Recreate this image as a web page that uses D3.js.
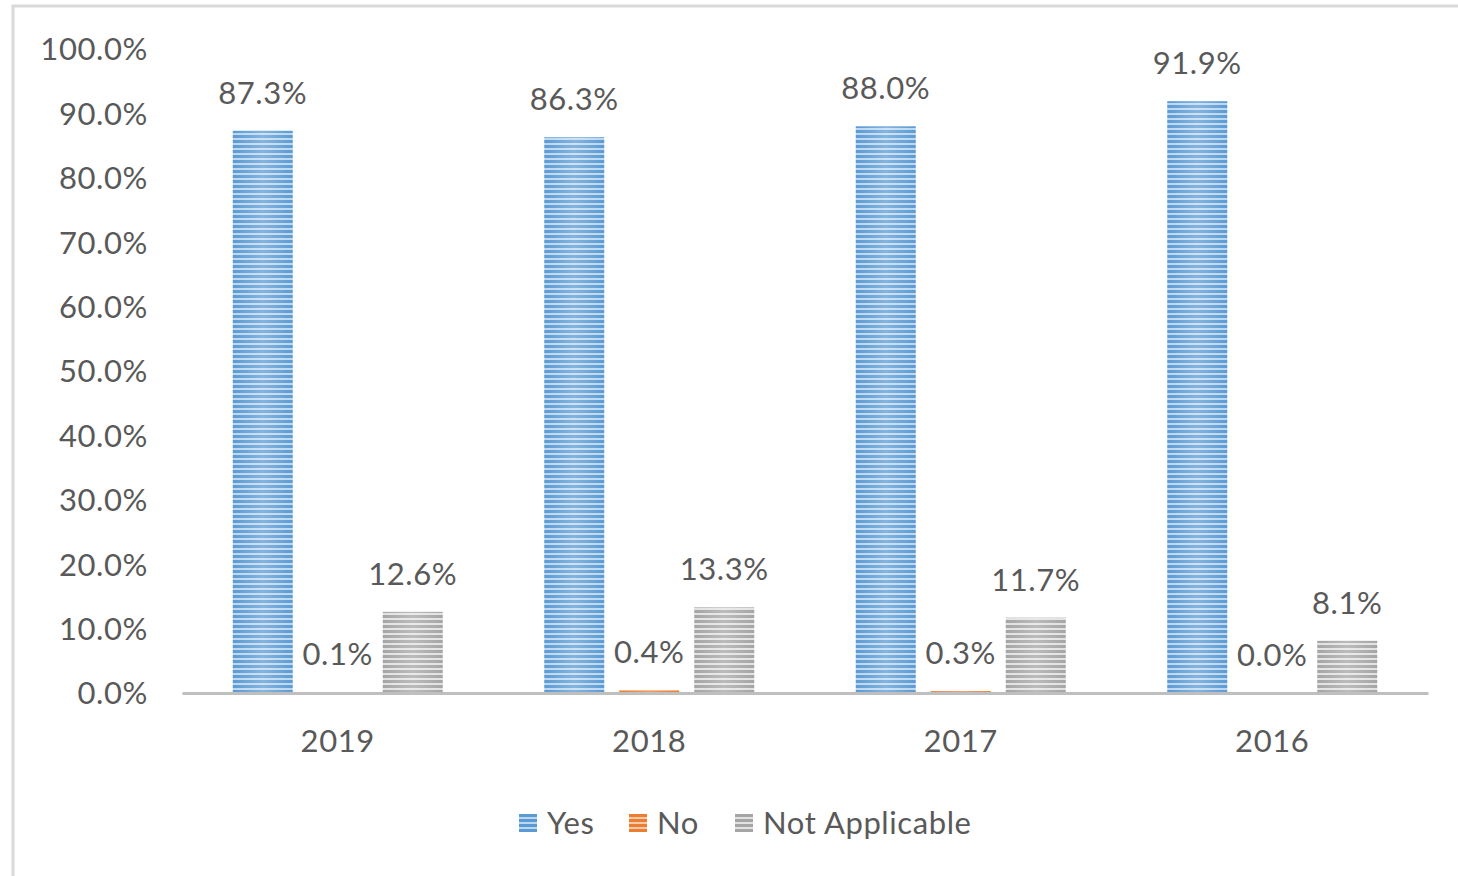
<!DOCTYPE html>
<html><head><meta charset="utf-8">
<script src="https://cdn.jsdelivr.net/npm/d3@7"></script>
<style>html,body{margin:0;padding:0;background:#fff}svg{display:block}</style>
</head><body>
<svg id="c" width="1458" height="876"></svg>
<script>
const categories = ["2019","2018","2017","2016"];
const seriesNames = ["Yes","No","Not Applicable"];
const yesValues = [87.3, 86.3, 88.0, 91.9];
const noValues = [0.1, 0.4, 0.3, 0.0];
const naValues = [12.6, 13.3, 11.7, 8.1];
const yTicks = [0,10,20,30,40,50,60,70,80,90,100];

const seriesValues = [yesValues, noValues, naValues];
const colors = ["#5b9bd5", "#ed7d31", "#a5a5a5"];
const lights = ["#bdd7ee", "#f8cbad", "#e2e2e2"];
const font = "Lato, 'Open Sans', sans-serif";
const fs = 31;
const ls = "0.6px";
const textColor = "#595959";

const svg = d3.select("#c");
const defs = svg.append("defs");
seriesNames.forEach((s,i)=>{
  const p = defs.append("pattern").attr("id","pat"+i).attr("patternUnits","userSpaceOnUse")
    .attr("width",8).attr("height",5);
  p.append("rect").attr("width",8).attr("height",5).attr("fill",colors[i]);
  p.append("rect").attr("y",3).attr("width",8).attr("height",2).attr("fill",lights[i]);
  const g = defs.append("linearGradient").attr("id","grad"+i).attr("x1","0").attr("x2","1").attr("y1","0").attr("y2","0");
  g.append("stop").attr("offset","0").attr("stop-color","#fff").attr("stop-opacity",0);
  g.append("stop").attr("offset","0.5").attr("stop-color","#fff").attr("stop-opacity",0.25);
  g.append("stop").attr("offset","1").attr("stop-color","#fff").attr("stop-opacity",0);
});

// frame border
svg.append("path").attr("d","M13,876 L13,6 L1458,6").attr("fill","none").attr("stroke","#d9d9d9").attr("stroke-width",3);

const x0 = d3.scaleBand().domain(categories).range([182,1428]).paddingInner(0).paddingOuter(0);
const x1 = d3.scaleBand().domain(seriesNames).range([50.75, x0.bandwidth()-50.75]).paddingInner(0.2).paddingOuter(0);
const y = d3.scaleLinear().domain([0,100]).range([693,49]);

function styleText(sel){
  sel.attr("font-family",font).attr("font-size",fs).attr("fill",textColor).style("letter-spacing",ls);
}

// y labels
const yAxis = d3.axisLeft(y).tickValues(yTicks).tickFormat(d=>d.toFixed(1)+"%").tickSize(0).tickPadding(0);
const ya = svg.append("g").attr("transform","translate(148,0)").call(yAxis);
ya.select(".domain").remove();
ya.selectAll("text").call(styleText).attr("dy","0.35em");

// bars
const groups = svg.append("g").selectAll("g").data(categories).join("g")
  .attr("transform",d=>`translate(${x0(d)},0)`);
seriesNames.forEach((s,si)=>{
  groups.append("rect").attr("x",x1(s)).attr("width",x1.bandwidth())
    .attr("y",(d,ci)=>y(seriesValues[si][ci])).attr("height",(d,ci)=>y(0)-y(seriesValues[si][ci]))
    .attr("fill",`url(#pat${si})`);
  groups.append("rect").attr("x",x1(s)).attr("width",x1.bandwidth())
    .attr("y",(d,ci)=>y(seriesValues[si][ci])).attr("height",(d,ci)=>y(0)-y(seriesValues[si][ci]))
    .attr("fill",`url(#grad${si})`);
  groups.append("text").attr("x",x1(s)+x1.bandwidth()/2)
    .attr("y",(d,ci)=>y(seriesValues[si][ci])-38).attr("dy","0.35em")
    .attr("text-anchor","middle").call(styleText)
    .text((d,ci)=>seriesValues[si][ci].toFixed(1)+"%");
});

// x axis
const xAxis = d3.axisBottom(x0).tickSize(0).tickPadding(0);
const xa = svg.append("g").attr("transform","translate(0,693)").call(xAxis);
xa.select(".domain").attr("stroke","#bfbfbf").attr("stroke-width",3);
xa.selectAll("text").call(styleText).attr("dy","0.35em").attr("y",48);

// legend
const legX = [519, 629, 735];
const leg = svg.append("g").selectAll("g").data(seriesNames).join("g")
  .attr("transform",(d,i)=>`translate(${legX[i]},814)`);
leg.append("rect").attr("width",18).attr("height",18).attr("fill",(d,i)=>`url(#pat${i})`);
leg.append("text").attr("x",28).attr("y",9).attr("dy","0.35em").call(styleText).text(d=>d);
</script>
</body></html>
